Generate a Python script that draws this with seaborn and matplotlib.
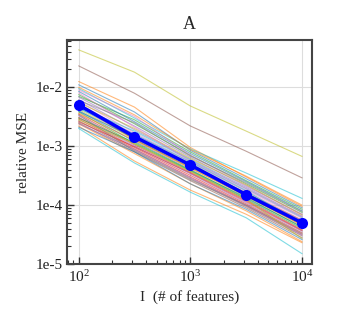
import numpy as np
import pandas as pd
import matplotlib
matplotlib.use("Agg")
import matplotlib.pyplot as plt
import matplotlib.ticker as mticker
import seaborn as sns

features = [100, 316, 1000, 3162, 10000]

# individual runs (relative MSE per feature count)
runs = [
    [1.1e-2, 3.8e-3, 8.5e-4, 2.8e-4, 9.0e-5],
    [1.25e-2, 4.6e-3, 9.5e-4, 3.0e-4, 9.5e-5],
    [7.0e-3, 2.8e-3, 8.0e-4, 2.6e-4, 8.5e-5],
    [3.1e-3, 9.5e-4, 3.2e-4, 1.05e-4, 3.4e-5],
    [6.2e-3, 1.9e-3, 6.0e-4, 2.0e-4, 6.5e-5],
    [2.3e-2, 7.9e-3, 2.2e-3, 8.2e-4, 2.9e-4],
    [5.8e-3, 1.7e-3, 5.5e-4, 1.8e-4, 6.0e-5],
    [4.5e-3, 1.35e-3, 4.6e-4, 1.5e-4, 4.9e-5],
    [4.3e-2, 1.8e-2, 4.8e-3, 1.8e-3, 6.7e-4],
    [9.5e-3, 3.0e-3, 9.0e-4, 3.5e-4, 1.3e-4],
    [8.5e-3, 2.6e-3, 7.5e-4, 2.5e-4, 8.0e-5],
    [2.4e-3, 7.5e-4, 2.3e-4, 8.0e-5, 2.4e-5],
    [7.5e-3, 2.4e-3, 7.0e-4, 2.3e-4, 7.5e-5],
    [2.9e-3, 9.0e-4, 3.0e-4, 1.0e-4, 3.2e-5],
    [6.8e-3, 2.2e-3, 6.5e-4, 2.1e-4, 7.0e-5],
    [2.7e-3, 8.5e-4, 2.8e-4, 9.5e-5, 3.0e-5],
    [5.2e-3, 1.6e-3, 5.2e-4, 1.7e-4, 5.6e-5],
    [4.8e-3, 1.5e-3, 5.0e-4, 1.6e-4, 5.2e-5],
    [4.2e-3, 1.3e-3, 4.3e-4, 1.4e-4, 4.6e-5],
    [2.0e-3, 5.2e-4, 1.66e-4, 6.1e-5, 1.5e-5],
    [4.0e-3, 1.2e-3, 4.0e-4, 1.3e-4, 4.3e-5],
    [2.2e-3, 5.6e-4, 1.8e-4, 7.0e-5, 2.3e-5],
    [3.8e-3, 1.1e-3, 3.8e-4, 1.25e-4, 4.0e-5],
    [3.5e-3, 1.05e-3, 3.6e-4, 1.2e-4, 3.8e-5],
    [3.3e-3, 1.0e-3, 3.4e-4, 1.1e-4, 3.6e-5],
    [2.5e-3, 8.0e-4, 2.6e-4, 9.0e-5, 2.8e-5],
    [9.0e-3, 3.2e-3, 7.0e-4, 2.2e-4, 7.0e-5],
    [6.0e-3, 2.5e-3, 6.8e-4, 2.4e-4, 7.8e-5],
    [5.5e-3, 2.0e-3, 6.2e-4, 2.2e-4, 6.8e-5],
    [4.6e-3, 1.8e-3, 5.8e-4, 1.9e-4, 6.2e-5],
    [3.9e-3, 1.4e-3, 4.8e-4, 1.6e-4, 5.0e-5],
    [3.6e-3, 1.25e-3, 4.2e-4, 1.45e-4, 4.5e-5],
    [3.0e-3, 1.15e-3, 3.9e-4, 1.35e-4, 4.2e-5],
    [2.6e-3, 9.8e-4, 3.5e-4, 1.15e-4, 3.7e-5],
    [2.4e-3, 8.8e-4, 2.9e-4, 9.8e-5, 3.1e-5],
    [5.0e-3, 1.3e-3, 4.4e-4, 1.6e-4, 5.5e-5],
    [8.0e-3, 2.1e-3, 5.6e-4, 1.9e-4, 6.4e-5],
    [3.4e-3, 8.2e-4, 2.7e-4, 1.0e-4, 3.3e-5],
    [2.8e-3, 1.1e-3, 3.7e-4, 1.25e-4, 2.7e-5],
    [4.4e-3, 1.6e-3, 5.4e-4, 1.75e-4, 4.8e-5],
    [2.1e-3, 8.0e-4, 2.3e-4, 8.5e-5, 2.6e-5],
    [1.0e-2, 3.4e-3, 8.8e-4, 3.1e-4, 1.0e-4],
]

mean_mse = [5.0e-3, 1.45e-3, 4.8e-4, 1.5e-4, 5.0e-5]

ytick_vals = [1e-5, 1e-4, 1e-3, 1e-2]
ytick_labels = ["1e-5", "1e-4", "1e-3", "1e-2"]

sns.set_theme(style="whitegrid")
plt.rcParams["font.family"] = ["Liberation Serif", "DejaVu Serif"]
plt.rcParams["mathtext.fontset"] = "custom"
plt.rcParams["mathtext.rm"] = "Liberation Serif"

rows = []
for i, r in enumerate(runs):
    for f, v in zip(features, r):
        rows.append({"run": i, "features": f, "mse": v})
df = pd.DataFrame(rows)

fig = plt.figure(figsize=(3.48, 3.31), dpi=100)
ax = fig.add_axes([0.193, 0.202, 0.704, 0.677])

pal = sns.color_palette("tab10", 10)
sns.lineplot(data=df, x="features", y="mse", hue="run", units="run", estimator=None,
             palette=[pal[i % 10] for i in range(len(runs))], legend=False,
             linewidth=0.8, alpha=0.55, ax=ax)
sns.lineplot(x=features, y=mean_mse, color="#0000ff", marker="o", markersize=8,
             markeredgewidth=0, linewidth=2.5, ax=ax)

ax.set_xscale("log")
ax.set_yscale("log")
ax.set_xlim(79, 12300)
ax.set_ylim(1e-5, 6.3e-2)
ax.yaxis.set_major_locator(mticker.FixedLocator(ytick_vals))
ax.yaxis.set_major_formatter(mticker.FixedFormatter(ytick_labels))
ax.yaxis.set_minor_locator(mticker.LogLocator(base=10, subs=np.arange(2, 10), numticks=20))
ax.yaxis.set_minor_formatter(mticker.NullFormatter())

ax.grid(True, which="major", color="#dddddd", linewidth=0.8)
ax.grid(False, which="minor")
for s in ax.spines.values():
    s.set_color("#444444")
    s.set_linewidth(1.5)
ax.tick_params(which="both", direction="in", left=True, bottom=True, right=False, top=False,
               colors="#333333", labelcolor="#222222", labelsize=11)
ax.tick_params(which="major", length=5, width=1)
ax.tick_params(which="minor", length=3, width=0.8)

ax.set_title("A", fontsize=13, pad=8)
ax.set_xlabel("I  (# of features)", fontsize=11)
ax.set_ylabel("relative MSE", fontsize=11)

fig.savefig("out.png", dpi=100)
